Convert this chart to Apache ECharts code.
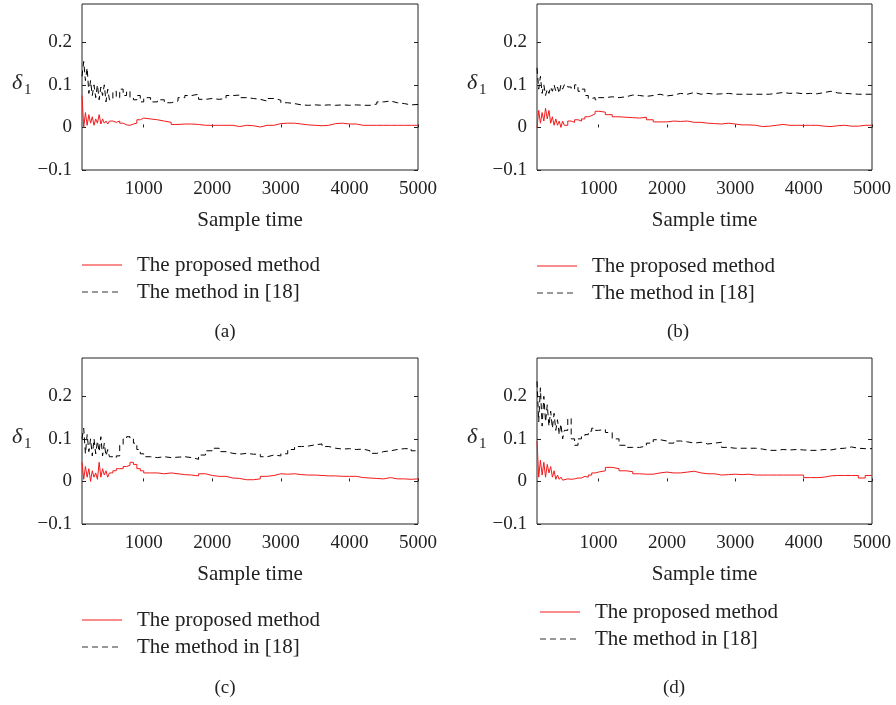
<!DOCTYPE html>
<html>
<head>
<meta charset="utf-8">
<script src="https://cdn.jsdelivr.net/npm/echarts@6/dist/echarts.min.js"></script>
<style>
  html, body { margin: 0; padding: 0; background: #fff; }
  #chart { width: 896px; height: 705px; }
</style>
</head>
<body>
<div id="chart"></div>
<script>
// sample instants (denser at the start where the estimates oscillate)
const sampleTime = [100, 125, 150, 175, 200, 225, 250, 275, 300, 325, 350, 375, 400, 425, 450, 475, 500,
  550, 600, 650, 700, 750, 800, 850, 900, 950, 1000,
  1100, 1200, 1300, 1400, 1500, 1600, 1700, 1800, 1900, 2000,
  2100, 2200, 2300, 2400, 2500, 2600, 2700, 2800, 2900, 3000,
  3100, 3200, 3300, 3400, 3500, 3600, 3700, 3800, 3900, 4000,
  4100, 4200, 4300, 4400, 4500, 4600, 4700, 4800, 4900, 5000]

const xTicks = [1000, 2000, 3000, 4000, 5000]
const yTicks = [-0.1, 0, 0.1, 0.2]
const legendNames = ['The proposed method', 'The method in [18]']
const panelLabels = ['(a)', '(b)', '(c)', '(d)']

// (a)
const proposedA = [0.075, 0.0, 0.035, 0.005, 0.03, 0.01, 0.025, 0.005, 0.02, 0.01, 0.03, 0.008, 0.02, 0.01, 0.015, 0.008, 0.015,
  0.012, 0.015, 0.01, 0.006, 0.005, 0.008, 0.01, 0.018, 0.022, 0.02,
  0.018, 0.015, 0.012, 0.007, 0.008, 0.008, 0.007, 0.005, 0.005, 0.005,
  0.005, 0.005, 0.002, 0.005, 0.004, 0.001, 0.005, 0.005, 0.009, 0.01,
  0.01, 0.008, 0.006, 0.005, 0.004, 0.005, 0.009, 0.01, 0.008, 0.008,
  0.005, 0.005, 0.005, 0.005, 0.005, 0.005, 0.005, 0.005, 0.005, 0.005]
const methodA = [0.12, 0.155, 0.11, 0.14, 0.08, 0.11, 0.075, 0.1, 0.07, 0.1, 0.065, 0.095, 0.075, 0.1, 0.06, 0.09, 0.065,
  0.085, 0.07, 0.09, 0.075, 0.085, 0.07, 0.065, 0.075, 0.06, 0.07,
  0.06, 0.065, 0.058, 0.062, 0.07, 0.075, 0.078, 0.066, 0.068, 0.066,
  0.068, 0.075, 0.076, 0.07, 0.068, 0.066, 0.062, 0.068, 0.064, 0.058,
  0.056, 0.053, 0.052, 0.053, 0.052, 0.053, 0.052, 0.053, 0.052, 0.053,
  0.052, 0.052, 0.055, 0.06, 0.062, 0.058, 0.056, 0.053, 0.054, 0.05]

// (b)
const proposedB = [0.0, 0.04, 0.01, 0.035, 0.015, 0.045, 0.02, 0.04, 0.01, 0.025, 0.005, 0.02, 0.005, 0.015, 0.0, 0.015, 0.005,
  0.015, 0.012, 0.018, 0.015, 0.02, 0.025, 0.028, 0.032, 0.038, 0.036,
  0.03, 0.025, 0.024, 0.023, 0.022, 0.024, 0.018, 0.013, 0.013, 0.015,
  0.014, 0.015, 0.012, 0.012, 0.01, 0.009, 0.008, 0.01, 0.008, 0.006,
  0.006, 0.005, 0.002, 0.003, 0.005, 0.007, 0.005, 0.005, 0.005, 0.005,
  0.005, 0.003, 0.002, 0.004, 0.005, 0.003, 0.003, 0.005, 0.005, 0.005]
const methodB = [0.14, 0.09, 0.12, 0.08, 0.1, 0.075, 0.09, 0.08, 0.095, 0.085, 0.1, 0.085, 0.095, 0.08, 0.1, 0.09, 0.1,
  0.095, 0.09, 0.1, 0.085, 0.09, 0.075, 0.068, 0.07, 0.065, 0.07,
  0.072, 0.07, 0.072, 0.076, 0.075, 0.073, 0.075, 0.078, 0.074, 0.076,
  0.08, 0.078, 0.082, 0.078, 0.08, 0.078, 0.079, 0.08, 0.078, 0.078,
  0.078, 0.078, 0.078, 0.078, 0.08, 0.082, 0.08, 0.081, 0.079, 0.08,
  0.079, 0.082, 0.085, 0.081, 0.08, 0.079, 0.078, 0.078, 0.078, 0.078]

// (c)
const proposedC = [0.045, 0.005, 0.035, 0.01, 0.03, 0.0, 0.025, 0.01, 0.02, 0.005, 0.045, 0.01, 0.03, 0.015, 0.025, 0.01, 0.02,
  0.025, 0.03, 0.03, 0.035, 0.038, 0.045, 0.04, 0.03, 0.025, 0.02,
  0.02, 0.018, 0.02, 0.018, 0.016, 0.015, 0.013, 0.018, 0.014, 0.012,
  0.012, 0.008, 0.007, 0.004, 0.004, 0.006, 0.012, 0.014, 0.018, 0.017,
  0.018, 0.016, 0.015, 0.015, 0.014, 0.013, 0.013, 0.012, 0.012, 0.012,
  0.009, 0.008, 0.007, 0.006, 0.009, 0.006, 0.006, 0.005, 0.006, 0.008]
const methodC = [0.1, 0.125, 0.065, 0.11, 0.07, 0.1, 0.06, 0.1, 0.065, 0.095, 0.07, 0.105, 0.06, 0.09, 0.06, 0.075, 0.058,
  0.055, 0.06, 0.085, 0.1, 0.105, 0.1, 0.09, 0.075, 0.065, 0.058,
  0.056, 0.058, 0.056, 0.057, 0.058, 0.056, 0.052, 0.062, 0.072, 0.078,
  0.07, 0.066, 0.064, 0.066, 0.064, 0.064, 0.058, 0.062, 0.06, 0.065,
  0.075, 0.082, 0.083, 0.086, 0.088, 0.082, 0.078, 0.076, 0.077, 0.075,
  0.076, 0.072, 0.066, 0.07, 0.072, 0.075, 0.077, 0.077, 0.072, 0.068]

// (d)
const proposedD = [0.095, 0.01, 0.05, 0.015, 0.045, 0.01, 0.04, 0.02, 0.035, 0.01, 0.025, 0.005, 0.015, 0.005, 0.01, 0.003, 0.006,
  0.005, 0.006, 0.008, 0.008, 0.012, 0.01, 0.015, 0.02, 0.022, 0.025,
  0.033, 0.03, 0.025, 0.023, 0.018, 0.017, 0.017, 0.02, 0.022, 0.02,
  0.02, 0.022, 0.024, 0.02, 0.018, 0.018, 0.015, 0.016, 0.017, 0.016,
  0.017, 0.015, 0.015, 0.015, 0.015, 0.015, 0.015, 0.015, 0.015, 0.009,
  0.009, 0.01, 0.013, 0.014, 0.014, 0.014, 0.014, 0.008, 0.014, 0.015]
const methodD = [0.235, 0.14, 0.22, 0.13, 0.2, 0.14, 0.18, 0.13, 0.165, 0.125, 0.16, 0.12, 0.145, 0.11, 0.135, 0.1, 0.12,
  0.148, 0.1, 0.085, 0.1, 0.105, 0.11, 0.118, 0.125, 0.12, 0.122,
  0.115, 0.1, 0.085, 0.08, 0.08, 0.083, 0.09, 0.098, 0.095, 0.09,
  0.095, 0.093, 0.09, 0.092, 0.088, 0.09, 0.092, 0.08, 0.078, 0.078,
  0.078, 0.078, 0.076, 0.073, 0.073, 0.075, 0.074, 0.075, 0.074, 0.073,
  0.073, 0.075, 0.074, 0.077, 0.078, 0.081, 0.078, 0.077, 0.077, 0.077]

const proposed = [proposedA, proposedB, proposedC, proposedD]
const method = [methodA, methodB, methodC, methodD]

// panel boxes and text spots, in pixels
const panels = [
  { left: 82, top: 4, width: 336, legendX: 82, legendY: 265, labelX: 225, labelY: 332 },
  { left: 537, top: 4, width: 335, legendX: 537, legendY: 266, labelX: 678, labelY: 332 },
  { left: 82, top: 358, width: 336, legendX: 82, legendY: 620, labelX: 225, labelY: 688 },
  { left: 537, top: 358, width: 335, legendX: 540, legendY: 612, labelX: 674, labelY: 688 }
]

const font = 'Liberation Serif'
const red = '#f21a1a'
const ink = '#222'

const zip = (xs, ys) => xs.map((x, i) => [x, ys[i]])
const yFmt = (v) => (v === 0 ? '0' : v < 0 ? '\u2212' + Math.abs(v).toFixed(1) : v.toFixed(1))

const chart = echarts.init(document.getElementById('chart'), null, { renderer: 'canvas' })

const grid = []
const xAxis = []
const yAxis = []
const series = []
const graphic = []

panels.forEach((p, i) => {
  grid.push({
    left: p.left, top: p.top, width: p.width, height: 166,
    show: true, borderColor: ink, borderWidth: 1, backgroundColor: 'transparent'
  })
  xAxis.push({
    type: 'value', gridIndex: i, min: 100, max: 5000,
    name: 'Sample time', nameLocation: 'middle', nameGap: 40,
    nameTextStyle: { fontFamily: font, fontSize: 21, color: ink },
    axisLine: { show: false },
    axisTick: { show: true, inside: true, length: 3, customValues: xTicks, lineStyle: { color: ink } },
    axisLabel: { customValues: xTicks, formatter: (v) => String(v), margin: 10, fontFamily: font, fontSize: 19, color: ink },
    splitLine: { show: false }
  })
  yAxis.push({
    type: 'value', gridIndex: i, min: -0.1, max: 0.29,
    axisLine: { show: false },
    axisTick: { show: true, inside: true, length: 4, customValues: yTicks, lineStyle: { color: ink } },
    axisLabel: { customValues: yTicks, formatter: yFmt, margin: 10, fontFamily: font, fontSize: 19, color: ink },
    splitLine: { show: false }
  })
  // mirrored ticks on the right edge
  yAxis.push({
    type: 'value', gridIndex: i, min: -0.1, max: 0.29, position: 'right',
    axisLine: { show: false },
    axisTick: { show: true, inside: true, length: 4, customValues: yTicks, lineStyle: { color: ink } },
    axisLabel: { show: false },
    splitLine: { show: false }
  })
  series.push({
    name: legendNames[0], type: 'line', step: 'end',
    xAxisIndex: i, yAxisIndex: i * 2,
    showSymbol: false, symbol: 'none',
    lineStyle: { color: red, width: 1 }, itemStyle: { color: red },
    data: zip(sampleTime, proposed[i])
  })
  series.push({
    name: legendNames[1], type: 'line', step: 'end',
    xAxisIndex: i, yAxisIndex: i * 2,
    showSymbol: false, symbol: 'none',
    lineStyle: { color: '#000', width: 1, type: [6, 4] }, itemStyle: { color: '#000' },
    data: zip(sampleTime, method[i])
  })

  // legend, drawn as line samples plus labels
  const rows = [
    { y: p.legendY, stroke: red, dash: null, text: legendNames[0] },
    { y: p.legendY + 27, stroke: '#333', dash: [6, 4], text: legendNames[1] }
  ]
  rows.forEach((r) => {
    graphic.push({
      type: 'line', silent: true,
      shape: { x1: p.legendX, y1: r.y, x2: p.legendX + 40, y2: r.y },
      style: { stroke: r.stroke, lineWidth: 1, lineDash: r.dash }
    })
    graphic.push({
      type: 'text', silent: true, x: p.legendX + 55, y: r.y,
      style: { text: r.text, fontFamily: font, fontSize: 21, fill: ink, textVerticalAlign: 'middle' }
    })
  })

  graphic.push({
    type: 'text', silent: true, x: p.labelX, y: p.labelY,
    style: { text: panelLabels[i], fontFamily: font, fontSize: 19, fill: ink, textAlign: 'center', textVerticalAlign: 'middle' }
  })
  const lx = p.left - 70
  const ly = p.top + 79
  graphic.push({
    type: 'text', silent: true, x: lx, y: ly,
    style: { text: 'δ', fontFamily: font, fontSize: 22, fontStyle: 'italic', fill: ink, textVerticalAlign: 'middle' }
  })
  graphic.push({
    type: 'text', silent: true, x: lx + 12, y: ly + 7,
    style: { text: '1', fontFamily: font, fontSize: 15, fill: ink, textVerticalAlign: 'middle' }
  })
})

chart.setOption({
  animation: false,
  backgroundColor: '#fff',
  grid,
  xAxis,
  yAxis,
  series,
  graphic
})
</script>
</body>
</html>
